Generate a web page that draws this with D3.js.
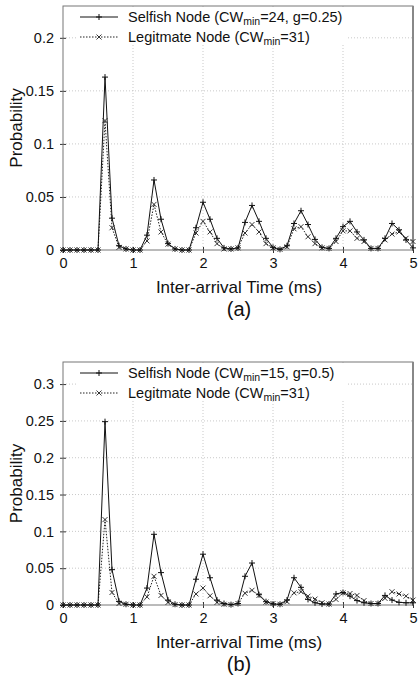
<!DOCTYPE html>
<html>
<head>
<meta charset="utf-8">
<script src="https://cdn.jsdelivr.net/npm/d3@7"></script>
<style>
  body { margin: 0; background: #fff; }
  svg { display: block; font-family: "Liberation Sans", Arial, sans-serif; }
</style>
</head>
<body>
<script>
// inter-arrival time bins (ms)
var timeMs = [0, 0.1, 0.2, 0.3, 0.4, 0.5, 0.6, 0.7, 0.8, 0.9,
              1.0, 1.1, 1.2, 1.3, 1.4, 1.5, 1.6, 1.7, 1.8, 1.9,
              2.0, 2.1, 2.2, 2.3, 2.4, 2.5, 2.6, 2.7, 2.8, 2.9,
              3.0, 3.1, 3.2, 3.3, 3.4, 3.5, 3.6, 3.7, 3.8, 3.9,
              4.0, 4.1, 4.2, 4.3, 4.4, 4.5, 4.6, 4.7, 4.8, 4.9, 5.0];

// panel (a)
var selfishA = [0, 0, 0, 0, 0, 0, 0.163, 0.030, 0.004, 0.001,
                0, 0, 0.014, 0.066, 0.029, 0.006, 0.001, 0, 0, 0.021,
                0.045, 0.029, 0.011, 0.002, 0.001, 0.002, 0.026, 0.042, 0.027, 0.011,
                0.0025, 0.0006, 0.004, 0.025, 0.037, 0.024, 0.010, 0.0025, 0.0015, 0.011,
                0.022, 0.027, 0.017, 0.0095, 0.0015, 0.0015, 0.011, 0.025, 0.019, 0.0095, 0.002];
var legitA = [0, 0, 0, 0, 0, 0, 0.122, 0.021, 0.0025, 0.001,
              0, 0, 0.0085, 0.043, 0.017, 0.0055, 0.001, 0, 0, 0.016,
              0.027, 0.017, 0.006, 0.001, 0.001, 0.002, 0.016, 0.024, 0.017, 0.006,
              0.002, 0.0006, 0.003, 0.020, 0.022, 0.0125, 0.006, 0.002, 0.0015, 0.008,
              0.018, 0.018, 0.011, 0.008, 0.0015, 0.0015, 0.0095, 0.015, 0.017, 0.011, 0.008];

// panel (b)
var selfishB = [0, 0, 0, 0, 0, 0, 0.249, 0.048, 0.005, 0.001,
                0, 0, 0.023, 0.096, 0.044, 0.0067, 0.001, 0, 0, 0.035,
                0.069, 0.037, 0.0067, 0.002, 0.0005, 0.002, 0.039, 0.057, 0.014, 0.0045,
                0.0013, 0.001, 0.0067, 0.037, 0.024, 0.0076, 0.003, 0.0013, 0.0013, 0.015,
                0.017, 0.012, 0.006, 0.003, 0.002, 0.002, 0.013, 0.0067, 0.0036, 0.003, 0.003];
var legitB = [0, 0, 0, 0, 0, 0, 0.116, 0.017, 0.002, 0.001,
              0, 0, 0.011, 0.039, 0.013, 0.0035, 0.0005, 0, 0, 0.015,
              0.023, 0.0125, 0.0035, 0.001, 0.0005, 0.002, 0.016, 0.020, 0.013, 0.004,
              0.002, 0.001, 0.0045, 0.0165, 0.018, 0.012, 0.008, 0.003, 0.0013, 0.0076,
              0.0165, 0.0156, 0.013, 0.006, 0.002, 0.002, 0.009, 0.018, 0.015, 0.012, 0.0067];

var xTicks = [0, 1, 2, 3, 4, 5];
var yTicksA = [0, 0.05, 0.1, 0.15, 0.2];
var yTicksB = [0, 0.05, 0.1, 0.15, 0.2, 0.25, 0.3];

var svg = d3.select("body").append("svg")
    .attr("width", 418)
    .attr("height", 686);

function drawPanel(opt) {
    var left = 63, right = 413;
    var x = d3.scaleLinear().domain([0, 5]).range([left, right]),
        y = d3.scaleLinear().domain([0, opt.yMax]).range([opt.bottom, opt.top]);

    var g = svg.append("g");

    // grid
    g.selectAll(".vgrid").data(xTicks.slice(1, -1)).enter().append("line")
        .attr("x1", function(d) { return x(d); }).attr("x2", function(d) { return x(d); })
        .attr("y1", opt.top).attr("y2", opt.bottom)
        .attr("stroke", "#bbb").attr("stroke-width", 0.8).attr("stroke-dasharray", "1,2");
    g.selectAll(".hgrid").data(opt.yTicks.slice(1)).enter().append("line")
        .attr("x1", left).attr("x2", right)
        .attr("y1", function(d) { return y(d); }).attr("y2", function(d) { return y(d); })
        .attr("stroke", "#bbb").attr("stroke-width", 0.8).attr("stroke-dasharray", "1,2");

    // axes
    var fmt = function(d) { return d === 0 ? "0" : String(d); };
    var yAxis = g.append("g")
        .attr("transform", "translate(" + left + ",0)")
        .call(d3.axisLeft(y).tickValues(opt.yTicks).tickSize(3).tickPadding(6).tickFormat(fmt));
    var xAxis = g.append("g")
        .attr("transform", "translate(0," + opt.bottom + ")")
        .call(d3.axisBottom(x).tickValues(xTicks).tickSize(3).tickPadding(5).tickFormat(fmt));
    [yAxis, xAxis].forEach(function(ax) {
        ax.select(".domain").remove();
        ax.selectAll("text").attr("font-size", 14.5).attr("fill", "#111")
            .attr("font-family", "Liberation Sans, Arial, sans-serif");
        ax.selectAll("line").attr("stroke", "#333");
    });
    yAxis.selectAll(".tick line").attr("x2", -3).attr("x1", 3);
    xAxis.selectAll(".tick line").attr("y2", 3).attr("y1", -3);

    // frame
    g.append("rect")
        .attr("x", left).attr("y", opt.top)
        .attr("width", right - left).attr("height", opt.bottom - opt.top)
        .attr("fill", "none").attr("stroke", "#777").attr("stroke-width", 1);
    g.append("line")
        .attr("x1", right).attr("x2", right).attr("y1", opt.top).attr("y2", opt.bottom)
        .attr("stroke", "#888").attr("stroke-width", 2);

    // legend box (opaque)
    var ly1 = opt.top + 11, ly2 = opt.top + 31;
    g.append("rect")
        .attr("x", 76).attr("y", opt.top + 1)
        .attr("width", 272).attr("height", 38)
        .attr("fill", "#fff");

    // series
    var line = d3.line()
        .x(function(d) { return x(d.t); })
        .y(function(d) { return y(d.v); });
    var sData = timeMs.map(function(t, i) { return {t: t, v: opt.selfish[i]}; });
    var lData = timeMs.map(function(t, i) { return {t: t, v: opt.legit[i]}; });

    g.append("path").datum(lData)
        .attr("d", line).attr("fill", "none")
        .attr("stroke", "#222").attr("stroke-width", 1).attr("stroke-dasharray", "1.5,1.5");
    g.append("path").datum(sData)
        .attr("d", line).attr("fill", "none")
        .attr("stroke", "#111").attr("stroke-width", 1);

    function plus(sel, px, py) {
        sel.append("path")
            .attr("d", "M" + (px - 3) + "," + py + "H" + (px + 3) + "M" + px + "," + (py - 3) + "V" + (py + 3))
            .attr("stroke", "#111").attr("stroke-width", 1).attr("fill", "none");
    }
    function cross(sel, px, py) {
        sel.append("path")
            .attr("d", "M" + (px - 2.5) + "," + (py - 2.5) + "L" + (px + 2.5) + "," + (py + 2.5) +
                       "M" + (px - 2.5) + "," + (py + 2.5) + "L" + (px + 2.5) + "," + (py - 2.5))
            .attr("stroke", "#222").attr("stroke-width", 0.9).attr("fill", "none");
    }
    lData.forEach(function(d) { cross(g, x(d.t), y(d.v)); });
    sData.forEach(function(d) { plus(g, x(d.t), y(d.v)); });

    // legend
    g.append("line").attr("x1", 80).attr("x2", 118).attr("y1", ly1).attr("y2", ly1)
        .attr("stroke", "#111").attr("stroke-width", 1);
    plus(g, 99, ly1);
    g.append("line").attr("x1", 80).attr("x2", 118).attr("y1", ly2).attr("y2", ly2)
        .attr("stroke", "#222").attr("stroke-width", 1).attr("stroke-dasharray", "1.5,1.5");
    cross(g, 99, ly2);

    function legendText(py, before, after) {
        var t = g.append("text").attr("x", 128).attr("y", py + 5)
            .attr("font-size", 14.5).attr("fill", "#111");
        t.append("tspan").text(before);
        t.append("tspan").attr("dy", 3).attr("font-size", 10.5).text("min");
        t.append("tspan").attr("dy", -3).text(after);
    }
    legendText(ly1, opt.label1a, opt.label1b);
    legendText(ly2, "Legitmate Node (CW", "=31)");

    // axis titles
    g.append("text")
        .attr("transform", "translate(22," + ((opt.top + opt.bottom) / 2) + ") rotate(-90)")
        .attr("text-anchor", "middle").attr("font-size", 17).attr("fill", "#111")
        .text("Probability");
    g.append("text")
        .attr("x", (left + right) / 2 + 1).attr("y", opt.bottom + 43)
        .attr("text-anchor", "middle").attr("font-size", 17).attr("fill", "#111")
        .text("Inter-arrival Time (ms)");
    g.append("text")
        .attr("x", (left + right) / 2 + 1).attr("y", opt.bottom + 66)
        .attr("text-anchor", "middle").attr("font-size", 20).attr("fill", "#111")
        .text(opt.caption);
}

drawPanel({
    top: 6, bottom: 250, yMax: 0.23, yTicks: yTicksA,
    selfish: selfishA, legit: legitA,
    label1a: "Selfish Node (CW", label1b: "=24, g=0.25)", caption: "(a)"
});
drawPanel({
    top: 362, bottom: 605, yMax: 0.33, yTicks: yTicksB,
    selfish: selfishB, legit: legitB,
    label1a: "Selfish Node (CW", label1b: "=15, g=0.5)", caption: "(b)"
});
</script>
</body>
</html>
